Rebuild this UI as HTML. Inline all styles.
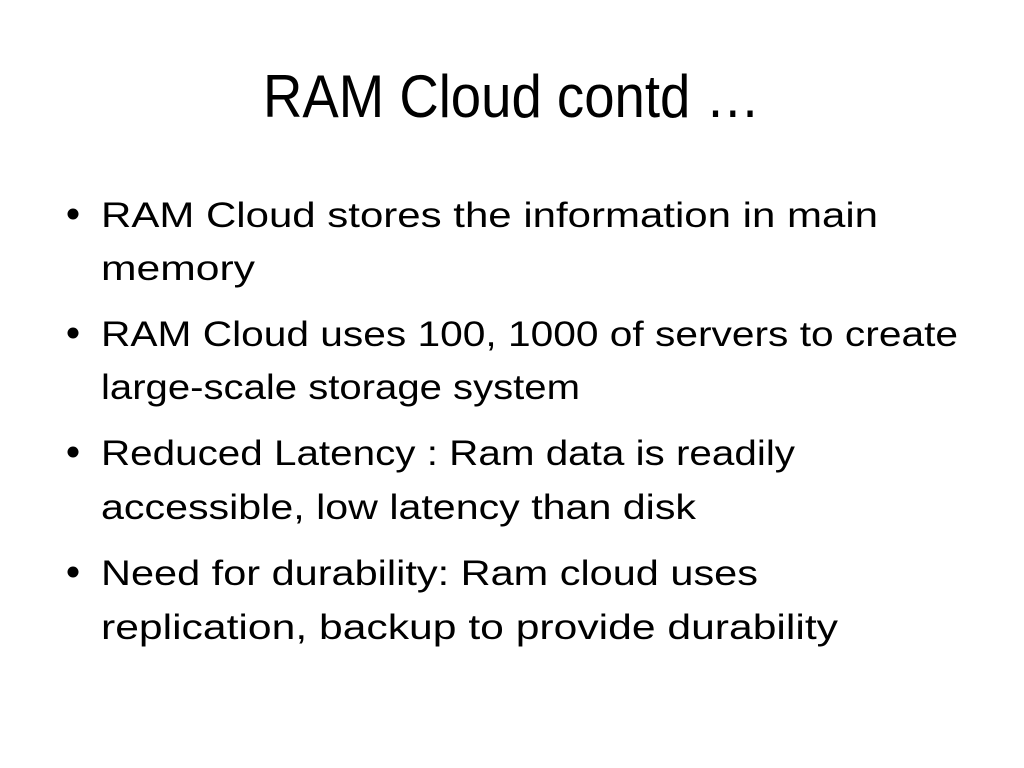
<!DOCTYPE html>
<html><head><meta charset="utf-8"><style>
html,body{margin:0;padding:0;background:#fff;}
svg{display:block;}
text{font-family:"Liberation Sans",sans-serif;fill:#000;}
</style></head><body>
<svg width="1024" height="768" viewBox="0 0 1024 768" xmlns="http://www.w3.org/2000/svg">
<rect width="1024" height="768" fill="#fff"/>
<text x="263" y="117" font-size="60" textLength="497" lengthAdjust="spacingAndGlyphs">RAM Cloud contd …</text>
<g font-size="35">
<circle cx="73" cy="214" r="5.5"/>
<text x="101" y="227" textLength="777" lengthAdjust="spacingAndGlyphs">RAM Cloud stores the information in main</text>
<text x="101" y="280" textLength="154" lengthAdjust="spacingAndGlyphs">memory</text>
<circle cx="73" cy="333" r="5.5"/>
<text x="101" y="346" textLength="857" lengthAdjust="spacingAndGlyphs">RAM Cloud uses 100, 1000 of servers to create</text>
<text x="101" y="399" textLength="479" lengthAdjust="spacingAndGlyphs">large-scale storage system</text>
<circle cx="73" cy="452" r="5.5"/>
<text x="101" y="465" textLength="694" lengthAdjust="spacingAndGlyphs">Reduced Latency : Ram data is readily</text>
<text x="101" y="519" textLength="595" lengthAdjust="spacingAndGlyphs">accessible, low latency than disk</text>
<circle cx="73" cy="572" r="5.5"/>
<text x="101" y="585" textLength="657" lengthAdjust="spacingAndGlyphs">Need for durability: Ram cloud uses</text>
<text x="101" y="639" textLength="737" lengthAdjust="spacingAndGlyphs">replication, backup to provide durability</text>
</g>
</svg>
</body></html>
